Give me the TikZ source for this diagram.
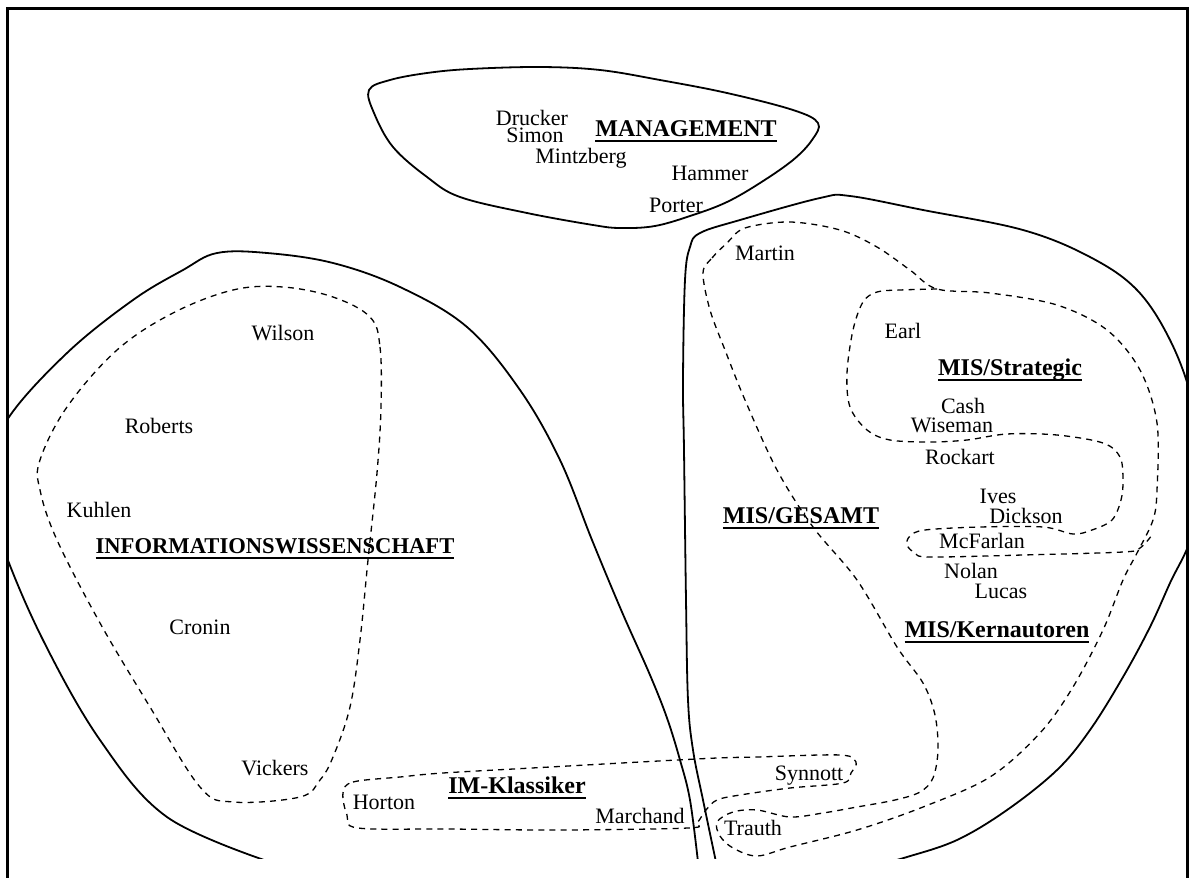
\documentclass[tikz,border=0pt]{standalone}
\usepackage{fontspec}
\setmainfont{Liberation Serif}
\newcommand\ulab[1]{\setbox0=\hbox{\bfseries #1}\leavevmode\rlap{\rule[-3pt]{\wd0}{1.2pt}}\box0}
\begin{document}
\begin{tikzpicture}[x=0.5pt,y=-0.5pt,
  nm/.style={font=\fontsize{11}{13}\selectfont, inner sep=0pt, anchor=base},
  lab/.style={font=\fontsize{12}{14}\selectfont\bfseries, inner sep=0pt, anchor=base},
  solidline/.style={line width=0.9pt, line join=round, line cap=round},
  dashline/.style={line width=0.65pt, dash pattern=on 3pt off 2.6pt}]
\useasboundingbox (0,0) rectangle (1189,878);
\draw[line width=1.5pt] (7,878) -- (7,8) -- (1187,8) -- (1187,878);
\begin{scope}
\clip (8,9) rectangle (1186,858);
% MANAGEMENT blob
\draw[solidline] plot[smooth cycle, tension=0.6] coordinates {(369,90) (390,80) (427,73) (470,69) (540,67) (600,70) (660,80) (727,93) (793,110) (818,123) (812,140) (793,160) (760,183) (727,202) (693,215) (655,226) (620,228) (593,225) (527,213) (460,197) (427,177) (393,147) (374,113)};
% INFORMATIONSWISSENSCHAFT solid
\draw[solidline] plot[smooth, tension=0.6] coordinates {(270,862) (167,817) (100,740) (43,640) (3,547) (-15,480) (7,420) (67,353) (133,300) (183,270) (217,253) (267,253) (333,263) (400,287) (467,327) (520,390) (560,460) (592,540) (622,612) (650,675) (667,718) (680,760) (690,800) (698,862)};
% MIS solid
\draw[solidline] plot[smooth, tension=0.6] coordinates {(716,862) (703,800) (693,750) (688,700) (686,600) (684,450) (683,380) (685,280) (690,247) (700,233) (740,220) (820,198) (850,196) (923,210) (1023,230) (1090,257) (1137,290) (1170,340) (1192,400) (1202,470) (1192,535) (1170,583) (1150,627) (1123,677) (1090,730) (1057,770) (1007,810) (957,840) (907,857) (880,864)};
% Informationswissenschaft dashed
\draw[dashline] plot[smooth cycle, tension=0.6] coordinates {(370,317) (380,347) (381,407) (377,473) (368,560) (360,640) (350,707) (333,757) (320,780) (300,797) (233,802) (200,787) (150,707) (100,623) (57,540) (40,490) (40,460) (67,407) (117,350) (173,313) (233,290) (283,287) (333,297)};
% MIS Kernautoren dashed
\draw[dashline] plot[smooth cycle, tension=0.55] coordinates {(703,273) (712,258) (727,243) (745,228) (790,222) (840,230) (877,247) (910,270) (937,289) (990,293) (1057,305) (1107,330) (1140,370) (1157,423) (1157,490) (1153,520) (1137,553) (1123,580) (1103,630) (1073,687) (1040,733) (990,777) (923,807) (857,830) (790,847) (757,856) (733,848) (720,836) (717,822) (733,812) (757,810) (790,817) (823,813) (857,807) (895,800) (920,792) (933,778) (938,750) (935,715) (923,683) (897,647) (857,580) (813,527) (777,470) (745,400) (725,350) (710,310)};
% MIS Strategic dashed
\draw[dashline] plot[smooth, tension=0.55] coordinates {(937,289) (900,290) (877,292) (863,302) (853,330) (847,373) (850,407) (867,430) (890,440) (930,442) (967,440) (1007,434) (1057,435) (1103,443) (1120,457) (1123,480) (1121,500) (1112,520) (1092,530) (1073,534) (1043,527) (980,527) (925,530) (910,536) (907,545) (915,553) (930,557) (1023,555) (1123,552) (1140,548) (1152,535)};
% IM-Klassiker dashed
\draw[dashline] plot[smooth cycle, tension=0.55] coordinates {(343,793) (353,782) (400,777) (443,773) (550,767) (640,762) (717,758) (757,757) (840,755) (856,762) (851,773) (843,783) (790,788) (740,795) (717,800) (706,810) (697,823) (688,828) (560,830) (450,829) (358,828) (347,815)};
\end{scope}
% texts
\node[nm] (drucker) at (532,125) {Drucker};
\node[nm] (simon) at (535,142) {Simon};
\node[nm] (mintzberg) at (581,163) {Mintzberg};
\node[lab] (management) at (686,136) {\ulab{MANAGEMENT}};
\node[nm] (hammer) at (710,180) {Hammer};
\node[nm] (porter) at (676,212) {Porter};
\node[nm] (martin) at (765,260) {Martin};
\node[nm] (earl) at (903,338) {Earl};
\node[lab] (strategic) at (1010,375) {\ulab{MIS/Strategic}};
\node[nm] (cash) at (963,413) {Cash};
\node[nm] (wiseman) at (952,432) {Wiseman};
\node[nm] (rockart) at (960,464) {Rockart};
\node[nm] (ives) at (998,503) {Ives};
\node[nm] (dickson) at (1026,523) {Dickson};
\node[nm] (mcfarlan) at (982,548) {McFarlan};
\node[nm] (nolan) at (971,578) {Nolan};
\node[nm] (lucas) at (1001,598) {Lucas};
\node[lab] (kern) at (997,637) {\ulab{MIS/Kernautoren}};
\node[lab] (gesamt) at (801,523) {\ulab{MIS/GESAMT}};
\node[nm] (synnott) at (809,780) {Synnott};
\node[nm] (trauth) at (753,835) {Trauth};
\node[nm] (wilson) at (283,340) {Wilson};
\node[nm] (roberts) at (159,433) {Roberts};
\node[nm] (kuhlen) at (99,517) {Kuhlen};
\node[lab,font=\fontsize{11.3}{13}\selectfont\bfseries] (info) at (275,553) {\ulab{INFORMATIONSWISSENSCHAFT}};
\node[nm] (cronin) at (200,634) {Cronin};
\node[nm] (vickers) at (275,775) {Vickers};
\node[nm] (horton) at (384,809) {Horton};
\node[lab] (imk) at (517,793) {\ulab{IM-Klassiker}};
\node[nm] (marchand) at (640,823) {Marchand};
\end{tikzpicture}
\end{document}
